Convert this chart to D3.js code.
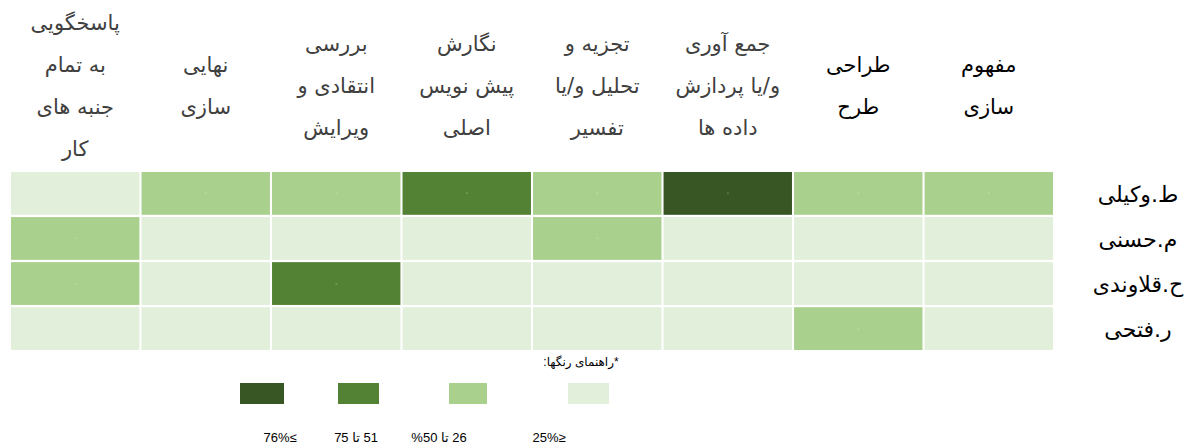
<!DOCTYPE html>
<html>
<head>
<meta charset="utf-8">
<script src="https://cdn.jsdelivr.net/npm/d3@7"></script>
<style>
  body { margin: 0; background: #fff; }
  svg { display: block; }
</style>
</head>
<body>
<svg></svg>
<script>
const width = 1192;
const height = 448;

// tasks, listed right to left as in the table
const tasks = [
  'مفهوم\nسازی',
  'طراحی\nطرح',
  'جمع آوری\nو/یا پردازش\nداده ها',
  'تجزیه و\nتحلیل و/یا\nتفسیر',
  'نگارش\nپیش نویس\nاصلی',
  'بررسی\nانتقادی و\nویرایش',
  'نهایی\nسازی',
  'پاسخگویی\nبه تمام\nجنبه های\nکار'
];
const people = ['ط.وکیلی', 'م.حسنی', 'ح.قلاوندی', 'ر.فتحی'];

// share band of each person per task (0: <=25%, 1: 26-50, 2: 51-75, 3: >=76)
const vakili = [1, 1, 3, 1, 2, 1, 1, 0];
const hasani = [0, 0, 0, 1, 0, 0, 0, 1];
const ghalavandi = [0, 0, 0, 0, 0, 2, 0, 1];
const fathi = [0, 1, 0, 0, 0, 0, 0, 0];

const levels = [0, 1, 2, 3];
const levelLabels = ['25%≥', '26 تا 50%', '51 تا 75', '76%≤'];
const legendTitle = '*راهنمای رنگها:';

const rows = [vakili, hasani, ghalavandi, fathi];
const cells = [];
people.forEach((p, i) => {
  tasks.forEach((t, j) => cells.push({ person: p, task: t, level: rows[i][j] }));
});

const svg = d3.select('svg').attr('width', width).attr('height', height);

const x = d3.scaleBand()
  .domain(tasks)
  .range([1053, 11])
  .paddingInner(0.016);

const y = d3.scaleBand()
  .domain(people)
  .range([172, 350])
  .paddingInner(0.05);

const color = d3.scaleOrdinal()
  .domain(levels)
  .range(['#e2efda', '#aad08e', '#548235', '#375623']);

// cells
const cell = svg.append('g').selectAll('g').data(cells)
  .enter().append('g');
cell.append('rect')
  .attr('x', d => x(d.task))
  .attr('y', d => y(d.person))
  .attr('width', x.bandwidth())
  .attr('height', y.bandwidth())
  .attr('fill', d => color(d.level));
cell.append('text')
  .attr('x', d => x(d.task) + x.bandwidth() / 2)
  .attr('y', d => y(d.person) + y.bandwidth() / 2)
  .attr('text-anchor', 'middle')
  .attr('dominant-baseline', 'central')
  .attr('font-family', 'DejaVu Sans')
  .attr('font-size', 7)
  .attr('fill', '#fff')
  .attr('fill-opacity', 0.5)
  .text('-');

// column headers
const lineH = 42;
const head = svg.append('g')
  .attr('font-family', 'DejaVu Sans')
  .attr('text-anchor', 'middle')
  .selectAll('text').data(tasks)
  .enter().append('text')
  .attr('direction', 'rtl')
  .attr('font-size', 21)
  .attr('fill', (d, i) => i < 2 ? '#000' : '#404040');
head.each(function(d) {
  const lines = d.split('\n');
  const cx = x(d) + x.bandwidth() / 2;
  const top = 86 - (lines.length - 1) * lineH / 2;
  d3.select(this).selectAll('tspan').data(lines)
    .enter().append('tspan')
    .attr('x', cx)
    .attr('y', (l, k) => top + k * lineH)
    .attr('dominant-baseline', 'central')
    .text(l => l);
});

// row labels
svg.append('g')
  .attr('font-family', 'DejaVu Sans')
  .attr('font-size', 22)
  .attr('text-anchor', 'middle')
  .selectAll('text').data(people)
  .enter().append('text')
  .attr('direction', 'rtl')
  .attr('x', 1138)
  .attr('y', d => y(d) + y.bandwidth() / 2 + 1)
  .attr('dominant-baseline', 'central')
  .attr('fill', '#000')
  .text(d => d);

// legend
svg.append('text')
  .attr('x', 581)
  .attr('y', 362)
  .attr('direction', 'rtl')
  .attr('text-anchor', 'middle')
  .attr('dominant-baseline', 'central')
  .attr('font-family', 'Liberation Sans Narrow, Liberation Sans, DejaVu Sans')
  .attr('font-size', 12)
  .attr('fill', '#000')
  .text(legendTitle);

const legendBox = d3.scaleOrdinal().domain(levels).range([568, 449, 338, 240]);
const legendW = d3.scaleOrdinal().domain(levels).range([41, 38, 41, 44]);
const legendText = d3.scaleOrdinal().domain(levels).range([549, 439, 356, 280]);

const legend = svg.append('g').selectAll('g').data(levels)
  .enter().append('g');
legend.append('rect')
  .attr('x', d => legendBox(d))
  .attr('y', 383)
  .attr('width', d => legendW(d))
  .attr('height', 21)
  .attr('fill', d => color(d));
legend.append('text')
  .attr('x', d => legendText(d))
  .attr('y', 437)
  .attr('text-anchor', 'middle')
  .attr('dominant-baseline', 'central')
  .attr('direction', d => /[\u0600-\u06FF]/.test(levelLabels[d]) ? 'rtl' : 'ltr')
  .attr('font-family', 'Liberation Sans, DejaVu Sans')
  .attr('font-size', 13)
  .attr('fill', '#000')
  .text(d => levelLabels[d]);
</script>
</body>
</html>
